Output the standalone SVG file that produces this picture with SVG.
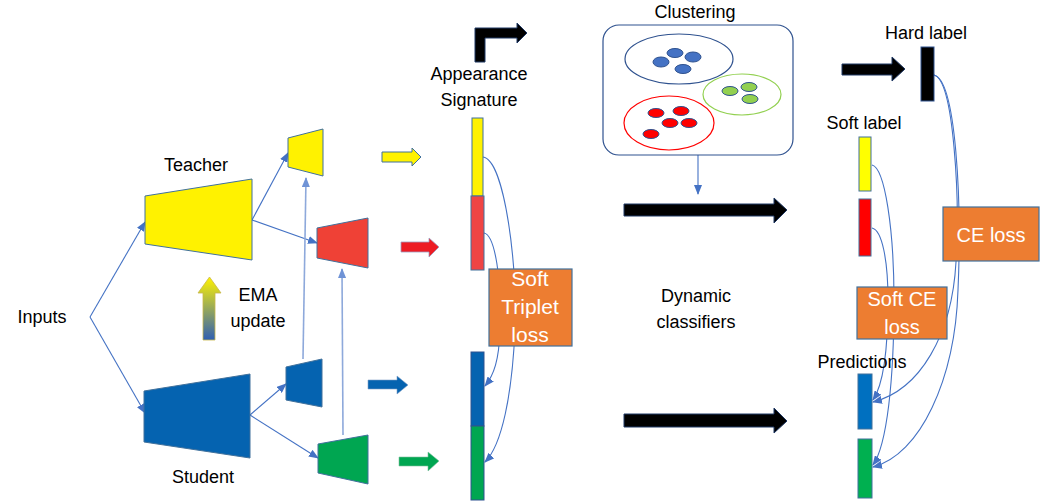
<svg xmlns="http://www.w3.org/2000/svg" width="1055" height="501" viewBox="0 0 1055 501">
<defs>
<marker id="ah" markerWidth="10" markerHeight="8" refX="9" refY="4" orient="auto" markerUnits="userSpaceOnUse">
<path d="M0,0 L10,4 L0,8 Z" fill="#4472C4"/>
</marker>
<marker id="ahl" markerWidth="10" markerHeight="8" refX="9" refY="4" orient="auto" markerUnits="userSpaceOnUse">
<path d="M0,0 L10,4 L0,8 Z" fill="#6F93D6"/>
</marker>
<linearGradient id="ema" x1="0" y1="0" x2="0" y2="1">
<stop offset="0" stop-color="#FFF200"/>
<stop offset="1" stop-color="#2F5FB3"/>
</linearGradient>
<style>
text{font-family:"Liberation Sans",Arial,sans-serif;font-size:18px;fill:#000;text-anchor:middle}
.w{fill:#fff;font-size:21px}
.sh{stroke:#41719C;stroke-width:1}
.c{fill:none;stroke:#4472C4;stroke-width:1.1}
.cl{fill:none;stroke:#8EA9DB;stroke-width:1.6}
.blk{fill:#000;stroke:#1F3864;stroke-width:1}
.loss{fill:#ED7D31;stroke:#41719C;stroke-width:1.2}
.dot{stroke:#2F528F;stroke-width:1}
</style>
</defs>
<rect width="1055" height="501" fill="#fff"/>

<g id="connectors">
<path class="c" d="M90,317 L145,222" marker-end="url(#ah)"/>
<path class="c" d="M90,317 L145,413" marker-end="url(#ah)"/>
<path class="c" d="M252,220 L288,153" marker-end="url(#ah)"/>
<path class="c" d="M252,220 L317,243" marker-end="url(#ah)"/>
<path class="c" d="M250,415 L286,384" marker-end="url(#ah)"/>
<path class="c" d="M250,415 L318,458" marker-end="url(#ah)"/>
<path class="cl" d="M303,359 L306,178" marker-end="url(#ahl)"/>
<path class="cl" d="M343,435 L342,269" marker-end="url(#ahl)"/>
<path class="c" d="M483,157 C505,160 518,270 515,330 C512,395 502,445 485,462" marker-end="url(#ah)"/>
<path class="c" d="M484,233 C495,235 502,280 500,330 C499,360 494,375 485,386" marker-end="url(#ah)"/>
<path class="c" d="M698,155 L698,194" marker-end="url(#ah)"/>
<path class="c" d="M934,75 C954,80 960,200 956,262 C952,335 920,390 873,402" marker-end="url(#ah)"/>
<path class="c" d="M934,75 C956,80 962,200 958,290 C955,380 920,455 873,467" marker-end="url(#ah)"/>
<path class="c" d="M872,228 C882,230 888,260 888,300 C888,350 883,385 873,400" marker-end="url(#ah)"/>
<path class="c" d="M872,165 C885,168 894,230 894,300 C894,380 887,445 873,465" marker-end="url(#ah)"/>
</g>

<g id="inputs"><text x="42" y="323">Inputs</text></g>

<g id="teacher">
<polygon class="sh" points="145,196 252,179 252,260 145,244" fill="#FFF200"/>
<text x="196" y="171">Teacher</text>
</g>
<g id="teacher-head-yellow"><polygon class="sh" points="288,138 323,129 323,176 288,167" fill="#FFF200"/></g>
<g id="teacher-head-red"><polygon class="sh" points="317,228 368,218 368,268 317,258" fill="#EF4136"/></g>

<g id="student">
<polygon class="sh" points="144,391 250,374 250,458 144,442" fill="#0563B0" stroke="#0563B0"/>
<text x="203" y="483">Student</text>
</g>
<g id="student-head-blue"><polygon class="sh" points="286,367 322,359 322,407 286,400" fill="#0563B0" stroke="#0563B0"/></g>
<g id="student-head-green"><polygon class="sh" points="318,444 368,435 368,484 318,473" fill="#00A651"/></g>

<g id="ema">
<polygon points="203,340 203,293 198,293 209.5,277 221,293 215,293 215,340" fill="url(#ema)" stroke="#C9B84A" stroke-width="0.8"/>
<text x="258" y="301">EMA</text>
<text x="258" y="327">update</text>
</g>

<g id="feature-arrows">
<polygon points="382,152 412,152 412,148 421,157 412,166 412,162 382,162" fill="#FFF200" stroke="#41719C" stroke-width="1"/>
<polygon points="401,242 429,242 429,238 439,247 429,257 429,252 401,252" fill="#ED1C24" stroke="#A0A0C0" stroke-width="0.8"/>
<polygon points="368,380 397,380 397,376 408,385 397,394 397,389 368,389" fill="#0563B0" stroke="#7F9FC8" stroke-width="0.6"/>
<polygon points="399,457 428,457 428,452 439,461 428,471 428,466 399,466" fill="#00A651" stroke="#7FBFA0" stroke-width="0.6"/>
</g>

<g id="appearance-signature">
<polygon class="blk" points="475,62 475,28 517,28 517,23 527,33 517,43 517,38 485,38 485,62"/>
<text x="479" y="80">Appearance</text>
<text x="479" y="106">Signature</text>
<rect class="sh" x="472" y="118" width="11" height="78" fill="#FFF200"/>
<rect class="sh" x="471" y="196" width="13" height="74" fill="#EF4444"/>
<rect x="471" y="352" width="13" height="74" fill="#0563B0" stroke="#2F528F" stroke-width="1"/>
<rect x="471" y="426" width="13" height="74" fill="#00A651" stroke="#2F528F" stroke-width="1"/>
</g>

<g id="soft-triplet-loss">
<rect class="loss" x="489" y="269" width="83" height="77"/>
<text class="w" x="530" y="286">Soft</text>
<text class="w" x="530" y="314">Triplet</text>
<text class="w" x="530" y="342">loss</text>
</g>

<g id="clustering">
<text x="695" y="18">Clustering</text>
<rect x="603" y="25" width="190" height="130" rx="16" fill="#fff" stroke="#2F528F" stroke-width="1.2"/>
<ellipse cx="679" cy="59" rx="54" ry="25" fill="none" stroke="#2F528F" stroke-width="1.2"/>
<ellipse cx="742" cy="94.5" rx="39" ry="20.5" fill="none" stroke="#92D050" stroke-width="1.2"/>
<ellipse cx="669" cy="123" rx="45" ry="27" fill="none" stroke="#FF0000" stroke-width="1.2"/>
<g fill="#4472C4" class="dot">
<ellipse cx="675" cy="53" rx="8" ry="4.5"/>
<ellipse cx="661" cy="62" rx="8" ry="5"/>
<ellipse cx="693" cy="57" rx="8" ry="5"/>
<ellipse cx="683" cy="69" rx="8" ry="4.5"/>
</g>
<g fill="#92D050" class="dot">
<ellipse cx="730" cy="91" rx="8" ry="4.5"/>
<ellipse cx="749" cy="87" rx="8" ry="4.5"/>
<ellipse cx="750" cy="99" rx="8" ry="4.5"/>
</g>
<g fill="#FF0000" class="dot">
<ellipse cx="656" cy="113" rx="8" ry="4.5"/>
<ellipse cx="681" cy="111" rx="8" ry="4.5"/>
<ellipse cx="670" cy="123" rx="8" ry="4.5"/>
<ellipse cx="689" cy="123" rx="8" ry="4.5"/>
<ellipse cx="651" cy="134" rx="8" ry="4.5"/>
</g>
</g>

<g id="dynamic-classifiers">
<polygon class="blk" points="624,204 774,204 774,198 787,210 774,223 774,216 624,216"/>
<text x="696" y="302">Dynamic</text>
<text x="696" y="328">classifiers</text>
<polygon class="blk" points="624,414 774,414 774,408 787,421 774,433 774,427 624,427"/>
</g>

<g id="hard-label">
<polygon class="blk" points="842,64 892,64 892,57 905,69 892,81 892,75 842,75"/>
<text x="926" y="39">Hard label</text>
<rect x="921" y="47" width="13" height="54" fill="#000" stroke="#2F528F" stroke-width="1"/>
</g>

<g id="soft-label">
<text x="864" y="129">Soft label</text>
<rect class="sh" x="859" y="137" width="12" height="54" fill="#FFFF00"/>
<rect class="sh" x="859" y="199" width="12" height="57" fill="#FF0000"/>
</g>

<g id="ce-loss">
<rect class="loss" x="943" y="207" width="96" height="54"/>
<text class="w" x="991" y="242" style="font-size:20px">CE loss</text>
</g>

<g id="soft-ce-loss">
<rect class="loss" x="857" y="287" width="90" height="52"/>
<text class="w" x="902" y="306" style="font-size:20px">Soft CE</text>
<text class="w" x="902" y="334" style="font-size:20px">loss</text>
</g>

<g id="predictions">
<text x="862" y="368">Predictions</text>
<rect class="sh" x="858" y="374" width="14" height="55" fill="#0070C0"/>
<rect class="sh" x="858" y="439" width="14" height="59" fill="#00B050"/>
</g>
</svg>
